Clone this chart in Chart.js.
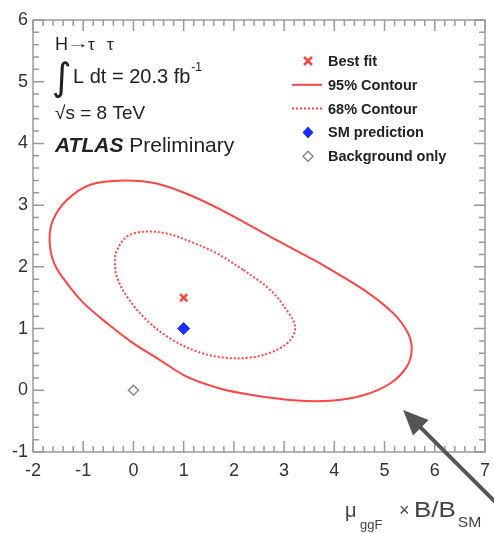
<!DOCTYPE html>
<html>
<head>
<meta charset="utf-8">
<script src="https://cdn.jsdelivr.net/npm/chart.js@4.4.0/dist/chart.umd.min.js"></script>
<style>
html,body{margin:0;padding:0;background:#fff;}
#wrap{width:494px;height:534px;}
</style>
</head>
<body>
<div id="wrap"><canvas id="c" width="494" height="534"></canvas></div>
<script>
const xRange = [-2, 7];
const yRange = [-1, 6];
const seriesLabels = ['Best fit', '95% Contour', '68% Contour', 'SM prediction', 'Background only'];

// 95% CL contour (solid), clockwise, starting on the straight upper-right stretch
const contour95X = [3.71,4.58,5.17,5.47,5.54,5.44,5.11,4.58,3.91,3.18,2.39,1.72,1.06,0.53,0.00,-0.53,-1.00,-1.33,-1.58,-1.67,-1.60,-1.33,-0.86,-0.20,0.46,1.13,1.85,2.72,3.71];
const contour95Y = [2.06,1.63,1.25,0.92,0.65,0.38,0.11,-0.08,-0.17,-0.16,-0.08,0.03,0.22,0.49,0.76,1.09,1.42,1.74,2.06,2.44,2.76,3.08,3.33,3.40,3.35,3.16,2.88,2.49,2.06];

// 68% CL contour (dotted)
const contour68X = [2.19,2.72,3.05,3.22,3.12,2.79,2.32,1.79,1.26,0.73,0.26,-0.13,-0.33,-0.37,-0.33,-0.13,0.20,0.66,1.13,1.66,2.19];
const contour68Y = [1.95,1.63,1.30,1.03,0.81,0.63,0.53,0.53,0.63,0.84,1.14,1.52,1.84,2.11,2.27,2.49,2.57,2.54,2.41,2.22,1.95];

const bestFit = [1.0, 1.5];
const smPoint = [1.0, 1.0];
const bkgPoint = [0.0, 0.0];

// annotation arrow, in data units (tail runs off the frame)
const arrowFrom = [7.5, -2.05];
const arrowTo = [5.37, -0.32];

const RED = '#ff4545';
const FONT = '"Liberation Sans", Arial, sans-serif';

function pts(xs, ys){ return xs.map((x,i)=>({x:x, y:ys[i]})); }

function drawMarker(ctx, kind, x, y){
  ctx.save();
  if (kind === 'cross'){
    ctx.strokeStyle = RED; ctx.lineWidth = 2.5;
    ctx.beginPath();
    ctx.moveTo(x-4,y-4); ctx.lineTo(x+4,y+4);
    ctx.moveTo(x+4,y-4); ctx.lineTo(x-4,y+4);
    ctx.stroke();
  } else if (kind === 'line' || kind === 'dash'){
    ctx.strokeStyle = RED; ctx.lineWidth = 2;
    if (kind === 'dash') ctx.setLineDash([2,2]);
    ctx.beginPath(); ctx.moveTo(x-16,y); ctx.lineTo(x+14,y); ctx.stroke();
  } else if (kind === 'diamondFill'){
    ctx.fillStyle = '#1a2cff';
    ctx.beginPath(); ctx.moveTo(x,y-6); ctx.lineTo(x+5.5,y); ctx.lineTo(x,y+6); ctx.lineTo(x-5.5,y); ctx.closePath(); ctx.fill();
  } else {
    ctx.strokeStyle = '#888'; ctx.lineWidth = 1.5;
    ctx.beginPath(); ctx.moveTo(x,y-5); ctx.lineTo(x+5,y); ctx.lineTo(x,y+5); ctx.lineTo(x-5,y); ctx.closePath(); ctx.stroke();
  }
  ctx.restore();
}

// text stretched horizontally (ROOT fonts run wider)
function wideText(ctx, txt, x, y, sx){
  ctx.save();
  ctx.translate(x, y);
  ctx.scale(sx, 1);
  ctx.fillText(txt, 0, 0);
  const w = ctx.measureText(txt).width * sx;
  ctx.restore();
  return w;
}

const rootFrame = {
  id: 'rootFrame',
  afterDraw(chart){
    const ctx = chart.ctx, a = chart.chartArea;
    const sx = chart.scales.x, sy = chart.scales.y;
    ctx.save();

    // frame + inward ticks (5 minor divisions)
    ctx.strokeStyle = '#9a9a9a';
    ctx.lineWidth = 1.5;
    ctx.strokeRect(a.left, a.top, a.right - a.left, a.bottom - a.top);
    ctx.beginPath();
    const nx = (xRange[1]-xRange[0])*5;
    for (let i=0;i<=nx;i++){
      const px = sx.getPixelForValue(xRange[0] + i*0.2);
      const len = i%5===0 ? 11 : 6;
      ctx.moveTo(px, a.bottom); ctx.lineTo(px, a.bottom-len);
      ctx.moveTo(px, a.top); ctx.lineTo(px, a.top+len);
    }
    const ny = (yRange[1]-yRange[0])*5;
    for (let i=0;i<=ny;i++){
      const py = sy.getPixelForValue(yRange[0] + i*0.2);
      const len = i%5===0 ? 11 : 6;
      ctx.moveTo(a.left, py); ctx.lineTo(a.left+len, py);
      ctx.moveTo(a.right, py); ctx.lineTo(a.right-len, py);
    }
    ctx.stroke();

    // text block
    ctx.fillStyle = '#222';
    ctx.textBaseline = 'alphabetic';
    ctx.textAlign = 'left';
    ctx.font = '18px ' + FONT;
    ctx.fillText('H', 55, 50);
    ctx.font = '14px ' + FONT;
    wideText(ctx, '\u2192', 67, 48, 1.6);
    ctx.font = '17px ' + FONT;
    ctx.fillText('\u03C4', 88, 50);
    ctx.fillText('\u03C4', 107, 50);
    ctx.font = '38px "DejaVu Sans", sans-serif';
    ctx.fillText('\u222B', 52, 90);
    ctx.font = '20px ' + FONT;
    ctx.fillText('L dt = 20.3 fb', 73, 83);
    const w1 = ctx.measureText('L dt = 20.3 fb').width;
    ctx.font = '12px ' + FONT;
    ctx.fillText('-1', 73 + w1 + 1, 71);
    ctx.font = '19px ' + FONT;
    ctx.fillText('\u221As = 8 TeV', 55, 119);
    ctx.font = 'italic bold 21px ' + FONT;
    ctx.fillText('ATLAS', 55, 152);
    const w2 = ctx.measureText('ATLAS ').width;
    ctx.font = '21px ' + FONT;
    ctx.fillText('Preliminary', 55 + w2, 152);

    // legend
    const kinds = ['cross','line','dash','diamondFill','diamond'];
    ctx.font = 'bold 14.5px ' + FONT;
    ctx.textBaseline = 'middle';
    seriesLabels.forEach((lab, i)=>{
      const y = 61 + i*23.8;
      drawMarker(ctx, kinds[i], 308, y);
      ctx.fillStyle = '#222';
      ctx.fillText(lab, 328, y + 1);
    });

    // x axis title
    ctx.textBaseline = 'alphabetic';
    ctx.fillStyle = '#444';
    ctx.font = '20px ' + FONT;
    ctx.fillText('\u03BC', 345, 517);
    ctx.font = '13px ' + FONT;
    ctx.fillText('ggF', 360, 529);
    ctx.font = '18px ' + FONT;
    ctx.fillText('\u00D7', 399, 516);
    ctx.font = '22px ' + FONT;
    const w3 = wideText(ctx, 'B/B', 414, 517, 1.18);
    ctx.font = '14px ' + FONT;
    wideText(ctx, 'SM', 414 + w3 + 2, 527, 1.12);

    // arrow
    const x0 = sx.getPixelForValue(arrowFrom[0]), y0 = sy.getPixelForValue(arrowFrom[1]);
    const x1 = sx.getPixelForValue(arrowTo[0]), y1 = sy.getPixelForValue(arrowTo[1]);
    const ang = Math.atan2(y1 - y0, x1 - x0);
    const hl = 25, hw = 11;
    const bx = x1 - hl*Math.cos(ang), by = y1 - hl*Math.sin(ang);
    ctx.strokeStyle = '#555'; ctx.fillStyle = '#555';
    ctx.lineWidth = 4;
    ctx.beginPath(); ctx.moveTo(x0, y0); ctx.lineTo(bx + 4*Math.cos(ang), by + 4*Math.sin(ang)); ctx.stroke();
    ctx.beginPath();
    ctx.moveTo(x1, y1);
    ctx.lineTo(bx + hw*Math.sin(ang), by - hw*Math.cos(ang));
    ctx.lineTo(bx - hw*Math.sin(ang), by + hw*Math.cos(ang));
    ctx.closePath(); ctx.fill();

    ctx.restore();
  }
};

new Chart(document.getElementById('c'), {
  type: 'scatter',
  data: {
    datasets: [
      {label: seriesLabels[0], data: [{x: bestFit[0], y: bestFit[1]}], pointStyle: 'crossRot', pointRadius: 5, borderColor: RED, pointBorderWidth: 2.5},
      {label: seriesLabels[1], data: pts(contour95X, contour95Y), showLine: true, tension: 0.35, borderColor: RED, borderWidth: 2, pointRadius: 0, fill: false},
      {label: seriesLabels[2], data: pts(contour68X, contour68Y), showLine: true, tension: 0.35, borderColor: RED, borderWidth: 2, borderDash: [2,2], pointRadius: 0, fill: false},
      {label: seriesLabels[3], data: [{x: smPoint[0], y: smPoint[1]}], pointStyle: 'rectRot', pointRadius: 6, backgroundColor: '#1a2cff', borderColor: '#1a2cff', pointBorderWidth: 1},
      {label: seriesLabels[4], data: [{x: bkgPoint[0], y: bkgPoint[1]}], pointStyle: 'rectRot', pointRadius: 5, backgroundColor: 'rgba(0,0,0,0)', borderColor: '#888', pointBorderWidth: 1.5}
    ]
  },
  options: {
    responsive: false,
    animation: false,
    layout: {padding: {top: 20, right: 9, left: 0, bottom: 0}},
    plugins: {legend: {display: false}, tooltip: {enabled: false}},
    scales: {
      x: {
        type: 'linear', min: xRange[0], max: xRange[1],
        grid: {display: false, drawTicks: false}, border: {display: false},
        ticks: {stepSize: 1, padding: 4, color: '#333', font: {family: FONT, size: 18, lineHeight: 1.7}, maxRotation: 0, autoSkip: false},
        afterFit(s){ s.height = 82; }
      },
      y: {
        type: 'linear', min: yRange[0], max: yRange[1],
        grid: {display: false, drawTicks: false}, border: {display: false},
        ticks: {stepSize: 1, padding: 5, color: '#333', font: {family: FONT, size: 18}, autoSkip: false},
        afterFit(s){ s.width = 33; }
      }
    }
  },
  plugins: [rootFrame]
});
</script>
</body>
</html>
